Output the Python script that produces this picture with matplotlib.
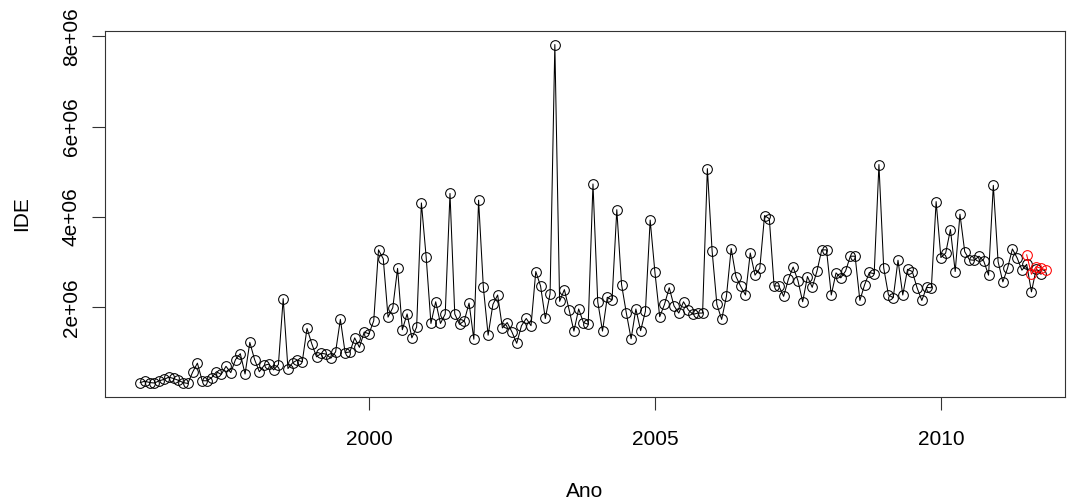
import numpy as np
import matplotlib
matplotlib.use("Agg")
import matplotlib.pyplot as plt
from matplotlib.ticker import FuncFormatter

# Serie mensal do IDE (milhoes), inicio em jan/1996
INICIO = 1996
ide = [0.33, 0.36, 0.33, 0.32, 0.37, 0.40, 0.45, 0.42, 0.38, 0.33, 0.31, 0.56,
       0.76, 0.37, 0.37, 0.44, 0.57, 0.51, 0.69, 0.55, 0.84, 0.97, 0.52, 1.22,
       0.84, 0.57, 0.71, 0.74, 0.61, 0.73, 2.19, 0.64, 0.77, 0.83, 0.79, 1.53,
       1.19, 0.90, 0.98, 0.96, 0.87, 1.01, 1.73, 0.99, 1.01, 1.32, 1.11, 1.45,
       1.41, 1.70, 3.27, 3.07, 1.78, 1.99, 2.86, 1.50, 1.85, 1.32, 1.56, 4.31,
       3.11, 1.64, 2.12, 1.64, 1.85, 4.52, 1.85, 1.62, 1.70, 2.09, 1.29, 4.37,
       2.44, 1.38, 2.06, 2.27, 1.54, 1.66, 1.45, 1.20, 1.59, 1.75, 1.59, 2.79,
       2.47, 1.75, 2.30, 7.82, 2.13, 2.39, 1.94, 1.47, 1.96, 1.66, 1.62, 4.73,
       2.12, 1.47, 2.22, 2.16, 4.16, 2.50, 1.87, 1.30, 1.96, 1.48, 1.91, 3.93,
       2.77, 1.79, 2.06, 2.43, 2.03, 1.87, 2.12, 1.94, 1.84, 1.87, 1.87, 5.07,
       3.24, 2.06, 1.73, 2.24, 3.30, 2.68, 2.46, 2.27, 3.20, 2.71, 2.86, 4.03,
       3.96, 2.47, 2.47, 2.24, 2.62, 2.89, 2.59, 2.12, 2.68, 2.44, 2.80, 3.27,
       3.27, 2.27, 2.76, 2.65, 2.80, 3.13, 3.13, 2.15, 2.50, 2.77, 2.74, 5.16,
       2.87, 2.27, 2.21, 3.04, 2.27, 2.84, 2.79, 2.43, 2.15, 2.44, 2.43, 4.34,
       3.10, 3.20, 3.72, 2.79, 4.06, 3.23, 3.05, 3.04, 3.13, 3.02, 2.71, 4.70,
       3.01, 2.56, 2.87, 3.29, 3.09, 2.82, 2.95, 2.34, 2.85, 2.73]

# Valores ajustados (vermelho), a partir do mes 186
INICIO_PREV = 186
prev = [3.16, 2.73, 2.90, 2.86, 2.83]

ide = np.array(ide) * 1e6
prev = np.array(prev) * 1e6
anos = INICIO + np.arange(len(ide)) / 12
anos_prev = INICIO + (INICIO_PREV + np.arange(len(prev))) / 12

plt.rcParams["font.family"] = ["Liberation Sans", "DejaVu Sans"]
plt.rcParams["font.size"] = 15

fig = plt.figure(figsize=(10.75, 5.04), dpi=100)
ax = fig.add_axes([0.0977, 0.2123, 0.893, 0.7262])

ax.plot(anos, ide, color="black", linewidth=0.75, marker="o", markersize=7,
        markerfacecolor="none", markeredgecolor="black", markeredgewidth=0.75)
ax.plot(anos_prev, prev, color="red", linewidth=0.75, marker="o", markersize=7,
        markerfacecolor="none", markeredgecolor="red", markeredgewidth=0.75)

ax.set_xlim(1995.385, 2012.17)
ax.set_ylim(0.01e6, 8.12e6)
ax.set_xticks([2000, 2005, 2010])
ax.set_yticks([2e6, 4e6, 6e6, 8e6])
ax.yaxis.set_major_formatter(FuncFormatter(lambda v, p: f"{int(v / 1e6)}e+06"))
for lbl in ax.get_yticklabels():
    lbl.set_rotation(90)
    lbl.set_va("center")

ax.tick_params(direction="out", length=9.5, width=0.8, color="#333333")
ax.tick_params(axis="x", pad=14)
ax.tick_params(axis="y", pad=8)
for s in ax.spines.values():
    s.set_linewidth(0.8)
    s.set_color("#333333")

ax.set_xlabel("Ano", labelpad=24)
ax.set_ylabel("IDE", labelpad=22)

plt.savefig("out.png", dpi=100)
